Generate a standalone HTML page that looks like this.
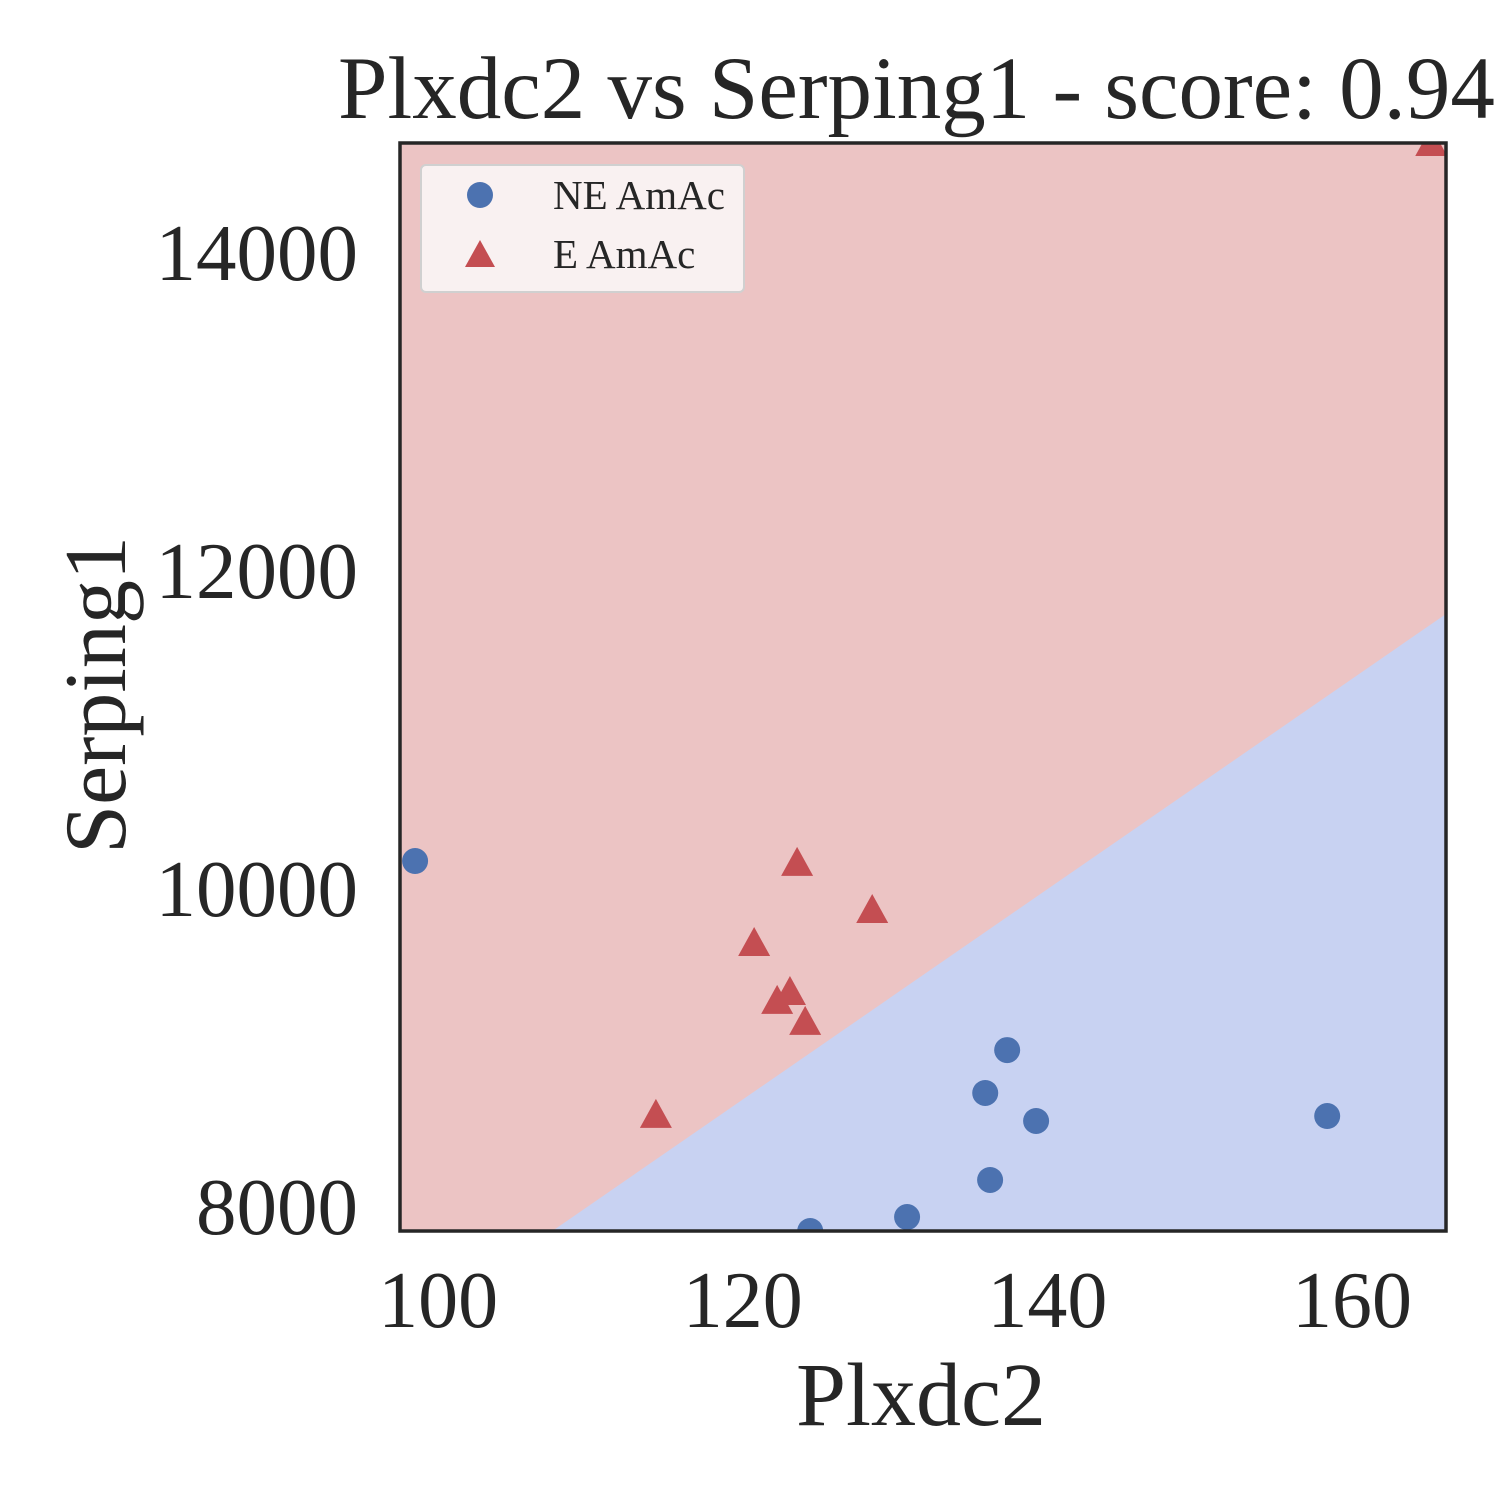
<!DOCTYPE html>
<html><head><meta charset="utf-8"><style>
html,body{margin:0;padding:0;background:#fff;}
svg{display:block;font-family:"Liberation Serif",serif;}
</style></head><body>
<svg id="chart" width="1500" height="1500" viewBox="0 0 1500 1500">
<defs><clipPath id="clip"><rect x="400" y="143" width="1046" height="1088"/></clipPath></defs>
<g id="plot" clip-path="url(#clip)"></g>
<rect x="400" y="143" width="1046" height="1088" fill="none" stroke="#262626" stroke-width="3.5"/>
<g id="ticks"></g>
<text x="338" y="118" font-size="89" fill="#262626">Plxdc2 vs Serping1 - score: 0.94</text>
<text x="921" y="1425" font-size="90" text-anchor="middle" fill="#262626">Plxdc2</text>
<text transform="translate(125,695) rotate(-90)" font-size="88" text-anchor="middle" fill="#262626">Serping1</text>
<g>
<rect x="421" y="165" width="323" height="127" rx="5" fill="#f9f1f1" stroke="#d0d0d0" stroke-width="2"/>
<circle cx="480" cy="195" r="13" fill="#4c72b0"/>
<text x="553" y="209" font-size="41" fill="#262626">NE AmAc</text>
<polygon points="480,240 495,267 465,267" fill="#c44e52"/>
<text x="553" y="268" font-size="41" fill="#262626">E AmAc</text>
</g>
</svg>
<script>
const xTicks=[100,120,140,160];
const yTicks=[8000,10000,12000,14000];
const neX=[98.49,137.36,135.92,139.26,158.37,136.24,130.79,124.43];
const neY=[10176,8987,8717,8541,8572,8170,7937,7849];
const eX=[165.2,123.57,128.5,120.75,123.1,122.26,124.1,114.3];
const eY=[14692,10164,9868,9660,9352,9296,9164,8579];
const boundaryX=[107.5,166.17];
const boundaryY=[7849,11730];
const X0=400,X1=1446,Y0=1231,Y1=143;
const xMin=97.5,xMax=166.17,yMin=7849,yMax=14692;
const sx=v=>X0+(v-xMin)/(xMax-xMin)*(X1-X0);
const sy=v=>Y0-(v-yMin)/(yMax-yMin)*(Y0-Y1);
const NS="http://www.w3.org/2000/svg";
const plot=document.getElementById('plot');
const ticks=document.getElementById('ticks');
function mk(t,a,p){const e=document.createElementNS(NS,t);for(const k in a)e.setAttribute(k,a[k]);p.appendChild(e);return e;}
let bg=mk('rect',{x:X0,y:Y1,width:X1-X0,height:Y0-Y1,fill:'#ecc4c4'},plot);


const bx1=sx(boundaryX[0]),by1=sy(boundaryY[0]),bx2=sx(boundaryX[1]),by2=sy(boundaryY[1]);
const m=(by2-by1)/(bx2-bx1);
const yAt=x=>by1+m*(x-bx1);
let reg=mk('polygon',{points:`${X0-100},${yAt(X0-100)} ${X1+100},${yAt(X1+100)} ${X1+100},${Y0+100} ${X0-100},${Y0+100}`,fill:'#c8d2f2'},plot);


for(let i=0;i<neX.length;i++){
 const c=mk('circle',{cx:sx(neX[i]),cy:sy(neY[i]),r:13,fill:'#4c72b0'},plot);
 
 
}
for(let i=0;i<eX.length;i++){
 const x=sx(eX[i]),y=sy(eY[i]);
 const p=mk('polygon',{points:`${x},${y-16} ${x+16},${y+13} ${x-16},${y+13}`,fill:'#c44e52'},plot);
 
 
}
xTicks.forEach(v=>{
 const t=mk('text',{x:sx(v),y:1327,'font-size':80,'text-anchor':'middle',fill:'#262626'},ticks);
 t.textContent=v;
 
 
});
yTicks.forEach(v=>{
 const t=mk('text',{x:358,y:sy(v)+27,'font-size':81,'text-anchor':'end',fill:'#262626'},ticks);
 t.textContent=v;
 
 
});
</script>
</body></html>
